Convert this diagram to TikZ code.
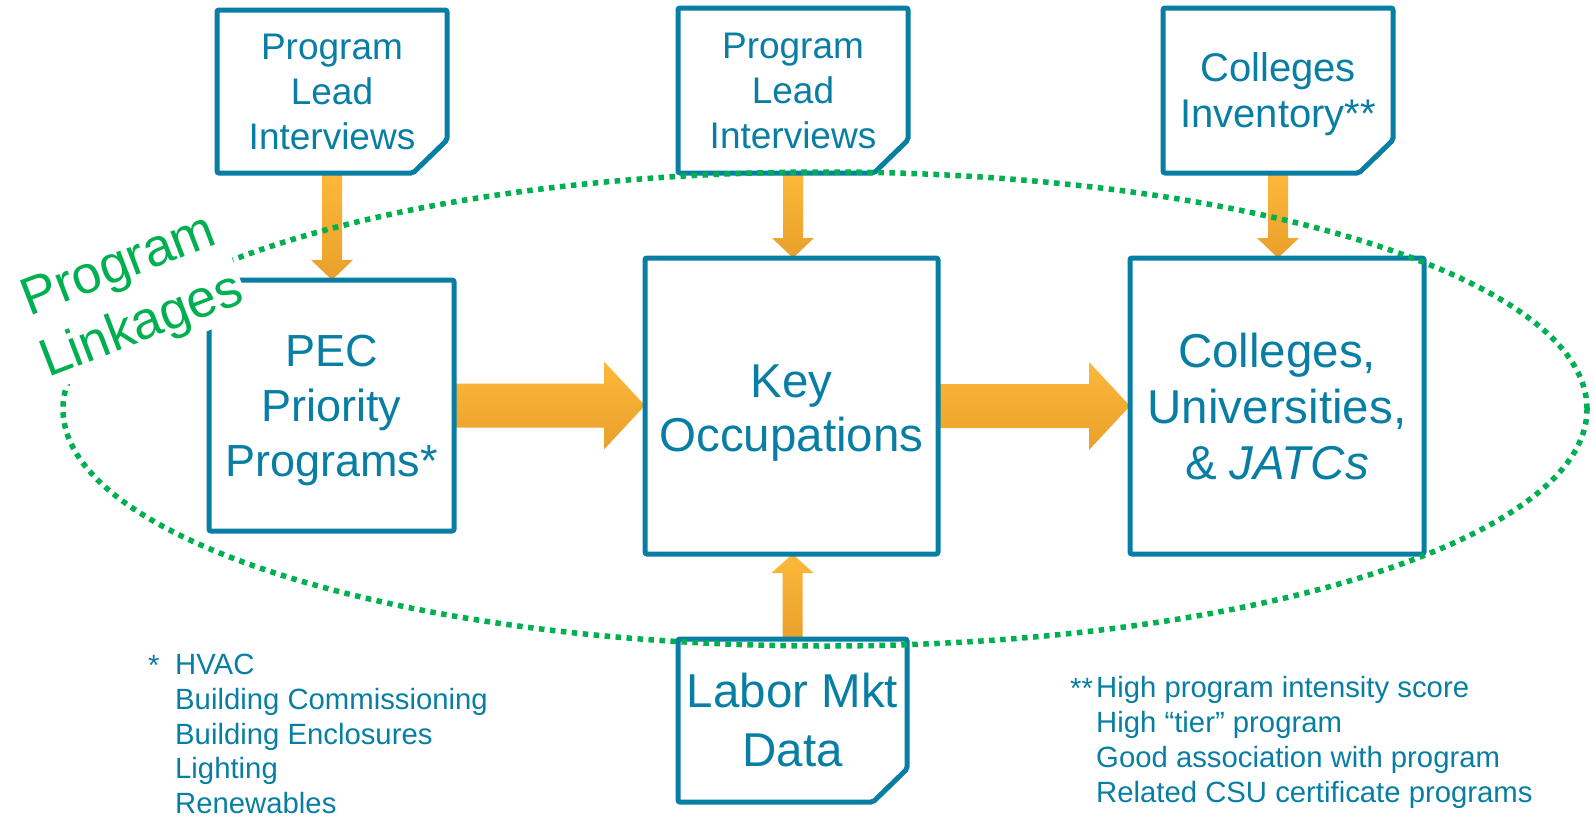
\documentclass[tikz,border=0pt]{standalone}
\usepackage{fontspec}
\setmainfont{Liberation Sans}
\usetikzlibrary{calc}
\definecolor{dblue}{RGB}{8,126,164}
\definecolor{dgreen}{RGB}{0,176,80}
\definecolor{otop}{RGB}{253,184,58}
\definecolor{obot}{RGB}{233,160,43}
\pgfdeclarelayer{bg}
\pgfsetlayers{bg,main}
\tikzset{
  boxline/.style={draw=dblue, line width=5pt, rounded corners=2pt},
  shapebox/.style={rectangle, draw=none, inner sep=0pt, outer sep=0pt},
  bigbox/.style={rectangle, draw=dblue, line width=5pt, rounded corners=2pt, inner sep=0pt, outer sep=0pt},
  txt/.style={text=dblue, align=center, inner sep=0pt},
  fn/.style={text=dblue, align=left, inner sep=0pt},
  flow/.style={top color=otop, bottom color=obot, draw=none},
  linkring/.style={draw=dgreen, line width=5.5pt, dash pattern=on 5.5pt off 5.5pt},
}
\newcommand\docoutline[1]{%
  \draw[boxline] (#1.north west) -- (#1.north east) -- ([yshift=33pt]#1.south east)
    -- ([xshift=-34pt]#1.south east) -- (#1.south west) -- cycle;}
\newcommand\downflow[2]{%
  \shade[flow] let \p1=(#1.south), \p2=(#2.north) in
    (\x1-10pt,\y1) -- (\x1+10pt,\y1) -- (\x1+10pt,\y2+20pt) -- (\x1+21pt,\y2+20pt)
    -- (\x1,\y2) -- (\x1-21pt,\y2+20pt) -- (\x1-10pt,\y2+20pt) -- cycle;}
\newcommand\upflow[2]{%
  \shade[flow] let \p1=(#1.north), \p2=(#2.south) in
    (\x1-10pt,\y1) -- (\x1+10pt,\y1) -- (\x1+10pt,\y2-19pt) -- (\x1+21pt,\y2-19pt)
    -- (\x1,\y2) -- (\x1-21pt,\y2-19pt) -- (\x1-10pt,\y2-19pt) -- cycle;}
\newcommand\rightflow[2]{%
  \shade[flow] let \p1=(#1.east), \p2=(#2.west) in
    (\x1,\y1+22pt) -- (\x2-41pt,\y1+22pt) -- (\x2-41pt,\y1+44pt) -- (\x2,\y1)
    -- (\x2-41pt,\y1-44pt) -- (\x2-41pt,\y1-22pt) -- (\x1,\y1-22pt) -- cycle;}
\begin{document}
\begin{tikzpicture}[x=1pt,y=-1pt]
\useasboundingbox (0,0) rectangle (1594,819);

% document-shaped source boxes
\node[shapebox, minimum width=230pt, minimum height=163pt] (d1) at (332,91.5) {};
\node[shapebox, minimum width=230pt, minimum height=165pt] (d2) at (793,90.5) {};
\node[shapebox, minimum width=230pt, minimum height=165pt] (d3) at (1278,90.5) {};
\node[shapebox, minimum width=229pt, minimum height=163pt] (lab) at (792.5,720.5) {};
\docoutline{d1}
\docoutline{d2}
\docoutline{d3}
\docoutline{lab}
\node[txt, font=\fontsize{37}{45}\selectfont] (d1t) at (332,92) {Program\\Lead\\Interviews};
\node[txt, font=\fontsize{37}{45}\selectfont] (d2t) at (793,90.5) {Program\\Lead\\Interviews};
\node[txt, font=\fontsize{40}{46}\selectfont] (d3t) at (1278,94.5) {Colleges\\Inventory**};
\node[txt, font=\fontsize{47.5}{59}\selectfont] (labt) at (792.5,720.5) {Labor Mkt\\Data};

% main boxes
\node[bigbox, minimum width=245pt, minimum height=251pt] (pec) at (331.5,405.5) {};
\node[bigbox, minimum width=293pt, minimum height=296pt] (key) at (791.5,406) {};
\node[bigbox, minimum width=294pt, minimum height=296pt] (col) at (1277,406) {};
\node[txt, font=\fontsize{45}{55}\selectfont] (pect) at (331.5,410.5) {PEC\\Priority\\Programs*};
\node[txt, font=\fontsize{47.5}{54}\selectfont] (keyt) at (791.5,413) {Key\\Occupations};
\node[txt, font=\fontsize{47.5}{56}\selectfont] (colt) at (1277,407) {Colleges,\\Universities,\\\& \textit{JATCs}};

% block arrows
\begin{pgfonlayer}{bg}
\downflow{d1}{pec}
\downflow{d2}{key}
\downflow{d3}{col}
\upflow{lab}{key}
\rightflow{pec}{key}
\rightflow{key}{col}
\end{pgfonlayer}

% program linkages ring
\draw[linkring] (825,409) ellipse [x radius=762pt, y radius=237pt];
\node[txt, text=dgreen, fill=white, inner sep=2.5pt, rotate=21,
      font=\fontsize{53}{64}\selectfont] (pl) at (131,298) {Program\\Linkages};

% footnotes
\node[fn, anchor=base west, font=\fontsize{29.3}{34.7}\selectfont] (st1) at (148,675.5) {*};
\node[fn, anchor=north west, font=\fontsize{29.3}{34.7}\selectfont] (fn1) at (175,654)
  {HVAC\\Building Commissioning\\Building Enclosures\\Lighting\\Renewables};
\node[fn, anchor=base west, font=\fontsize{29.3}{35}\selectfont] (st2) at (1070,698) {**};
\node[fn, anchor=north west, font=\fontsize{29.3}{35}\selectfont] (fn2) at (1096,676.5)
  {High program intensity score\\High “tier” program\\Good association with program\\Related CSU certificate programs};
\end{tikzpicture}
\end{document}
